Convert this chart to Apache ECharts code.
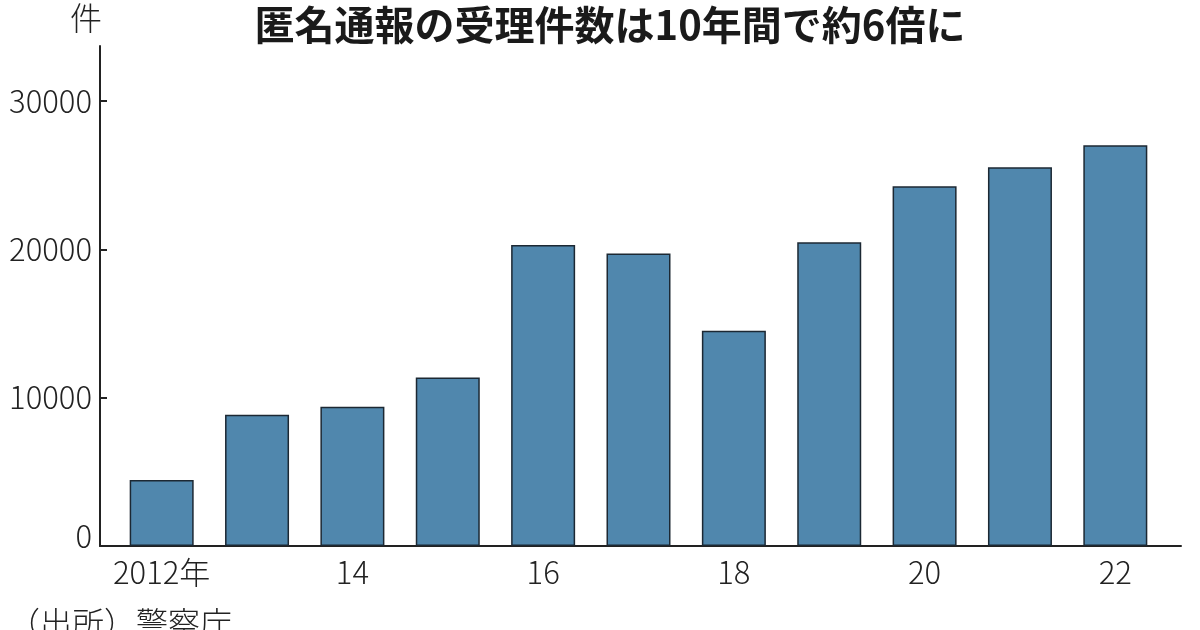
<!DOCTYPE html>
<html lang="ja">
<head>
	<meta charset="UTF-8">
	<title>匿名通報の受理件数</title>
	<style>
		html, body{
			margin: 0;
			padding: 0;
			background: #fff;
		}
		#main{
			width: 1200px;
			height: 630px;
		}
	</style>
	<script src="https://cdn.jsdelivr.net/npm/echarts@6/dist/echarts.min.js"></script>
</head>
<body>
	<div id="main"></div>
	<script>
		// データ（警察庁）
		var years = ['2012年', '13', '14', '15', '16', '17', '18', '19', '20', '21', '22'];
		var counts = [4450, 8840, 9380, 11360, 20290, 19720, 14510, 20470, 24250, 25530, 27010];
		var yTicks = [0, 10000, 20000, 30000];

		var jpFont = "'Noto Sans CJK JP', sans-serif";

		var myChart = echarts.init(document.getElementById('main'));

		var option = {
			backgroundColor: '#fff',
			animation: false,
			title: [{
				text: '匿名通報の受理件数は10年間で約6倍に',
				left: 605,
				top: 0,
				textAlign: 'center',
				textStyle: {
					fontFamily: jpFont,
					fontWeight: 'bold',
					fontSize: 40,
					color: '#1a1a1a'
				}
			}],
			graphic: [{
				type: 'text',
				left: 70,
				top: 2,
				style: {
					text: '件',
					font: '300 32px ' + jpFont,
					fill: '#222'
				}
			}, {
				type: 'text',
				left: 8,
				top: 607,
				style: {
					text: '（出所）警察庁',
					font: '300 32px ' + jpFont,
					fill: '#222'
				}
			}],
			grid: [{
				left: 114,
				right: 37,
				top: 46,
				bottom: 84,
				outerBoundsMode: 'none'
			}, {
				// x軸の線だけ（棒の範囲より少し広い）
				left: 100,
				right: 19,
				top: 46,
				bottom: 84,
				outerBoundsMode: 'none'
			}],
			xAxis: [{
				type: 'category',
				gridIndex: 0,
				data: years,
				axisLine: {show: false},
				axisTick: {show: false},
				axisLabel: {
					interval: 1,
					margin: 11,
					fontFamily: jpFont,
					fontWeight: 300,
					fontSize: 31,
					color: '#222'
				}
			}, {
				type: 'value',
				gridIndex: 1,
				min: 0,
				max: 1,
				axisLine: {show: true, lineStyle: {color: '#222', width: 2}},
				axisTick: {show: false},
				axisLabel: {show: false},
				splitLine: {show: false}
			}],
			yAxis: [{
				type: 'value',
				gridIndex: 0,
				min: 0,
				max: 33700,
				interval: 10000,
				offset: 14,
				axisLine: {show: true, lineStyle: {color: '#222', width: 2}},
				axisTick: {
					show: true,
					inside: true,
					length: 7,
					customValues: yTicks,
					lineStyle: {color: '#222', width: 2}
				},
				axisLabel: {
					margin: 8,
					customValues: yTicks,
					// 0だけ少し上にずらす
					formatter: function (v) { return v === 0 ? '{z|0}' : String(v); },
					rich: {
						z: {
							fontFamily: jpFont,
							fontWeight: 300,
							fontSize: 31,
							color: '#222',
							padding: [0, 0, 20, 0]
						}
					},
					fontFamily: jpFont,
					fontWeight: 300,
					fontSize: 31,
					color: '#222'
				},
				splitLine: {show: false}
			}, {
				type: 'value',
				gridIndex: 1,
				show: false
			}],
			series: [{
				name: '受理件数',
				type: 'bar',
				xAxisIndex: 0,
				yAxisIndex: 0,
				barWidth: 64,
				data: counts,
				itemStyle: {
					color: '#5087ad',
					borderColor: '#1c2833',
					borderWidth: 1.5
				}
			}]
		};

		myChart.setOption(option);
	</script>
</body>
</html>
